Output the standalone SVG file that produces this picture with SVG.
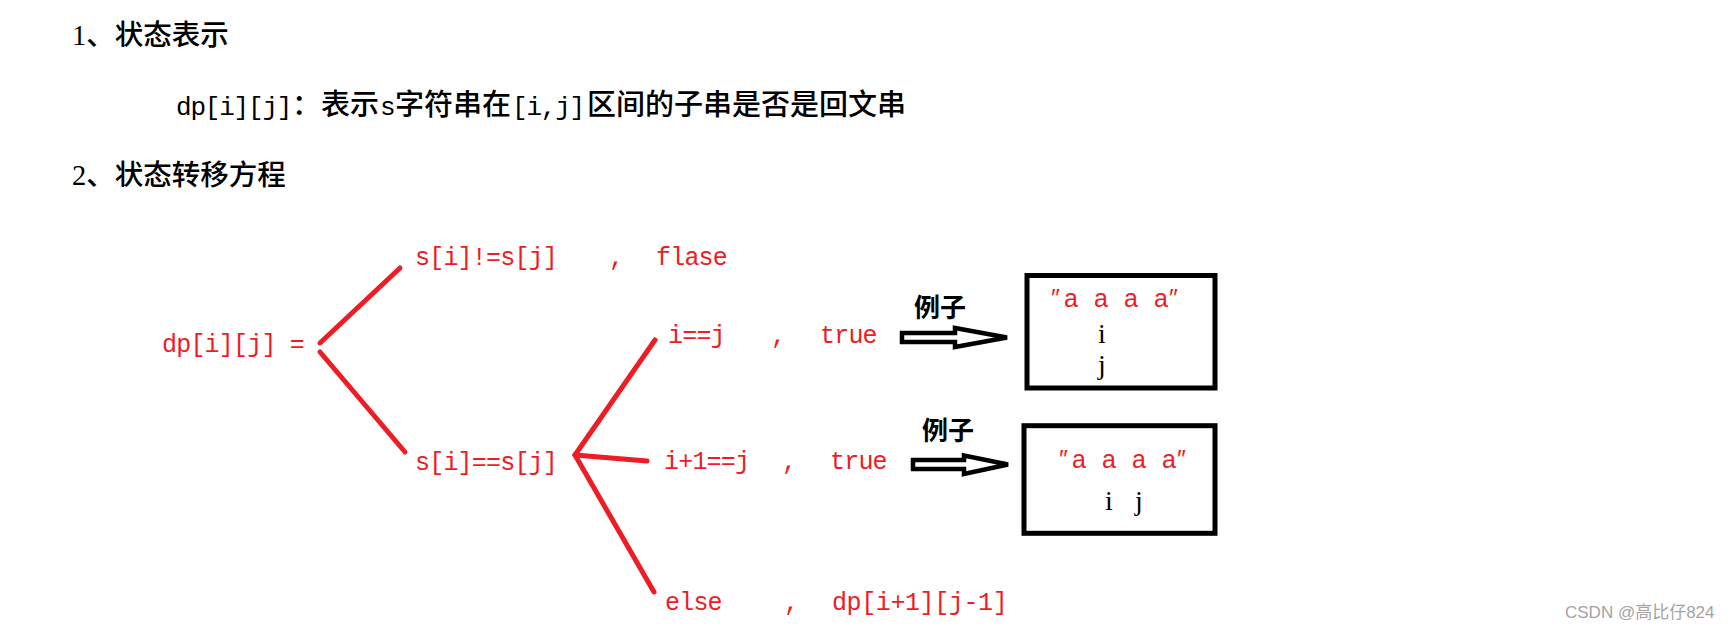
<svg xmlns="http://www.w3.org/2000/svg" width="1732" height="633" viewBox="0 0 1732 633">
  <style>
    .heading { font-family: "Liberation Serif", "Noto Sans CJK SC", serif; font-size: 28.5px; font-weight: 500; fill: #000; }
    .cn { font-family: "Noto Sans CJK SC", sans-serif; font-size: 29px; font-weight: 500; fill: #000; }
    .latin { font-family: "Liberation Mono", monospace; font-size: 26px; letter-spacing: -1.2px; fill: #000; }
    .red { font-family: "Liberation Mono", "Noto Sans CJK SC", monospace; font-size: 25px; letter-spacing: -0.8px; fill: #ee1c25; }
    .branch { stroke: #ee1c25; stroke-width: 5; stroke-linecap: round; fill: none; }
    .hollow { fill: #fff; stroke: #000; stroke-width: 4.5; stroke-linejoin: miter; }
    .frame { fill: none; stroke: #000; stroke-width: 5; }
    .label { font-family: "Noto Sans CJK SC", sans-serif; font-size: 26px; font-weight: 600; fill: #000; }
    .quote { font-family: "Liberation Sans", "DejaVu Sans", sans-serif; font-size: 25px; fill: #ee1c25; }
    .idx { font-family: "Liberation Serif", serif; font-size: 28px; fill: #000; text-anchor: middle; }
    .mark { font-family: "Liberation Sans", "Noto Sans CJK SC", sans-serif; font-size: 17px; fill: #a3a3a3; }
  </style>

  <rect width="1732" height="633" fill="#fff"/>

  <!-- section headings and definition -->
  <g id="heading-1">
    <text class="heading" x="72" y="45">1、状态表示</text>
  </g>
  <g id="definition">
    <text y="115"><tspan class="latin" x="176">dp[i][j]</tspan><tspan class="cn" x="292">：表示</tspan><tspan class="latin" x="380">s</tspan><tspan class="cn" x="395">字符串在</tspan><tspan class="latin" x="512">[i,j]</tspan><tspan class="cn" x="587">区间的子串是否是回文串</tspan></text>
  </g>
  <g id="heading-2">
    <text class="heading" x="72" y="185">2、状态转移方程</text>
  </g>

  <!-- transition tree -->
  <g id="connectors">
    <line class="branch" x1="320" y1="343" x2="400" y2="268"/>
    <line class="branch" x1="320" y1="352" x2="405" y2="452"/>
    <line class="branch" x1="575" y1="455" x2="655" y2="340"/>
    <line class="branch" x1="575" y1="455" x2="647" y2="461"/>
    <line class="branch" x1="575" y1="455" x2="654" y2="592"/>
    <polygon class="hollow" points="902,333 955,333 955,328 1007,337.5 955,347 955,342 902,342"/>
    <polygon class="hollow" points="913,460 964,460 964,455.5 1008,464.5 964,474 964,469 913,469"/>
  </g>

  <g id="root">
    <text class="red" x="162" y="352">dp[i][j] =</text>
  </g>
  <g id="case-unequal">
    <text class="red" y="265"><tspan x="415">s[i]!=s[j] </tspan><tspan x="609">, </tspan><tspan x="656">flase</tspan></text>
  </g>
  <g id="case-equal">
    <text class="red" x="415" y="470">s[i]==s[j]</text>
  </g>
  <g id="case-same-index">
    <text class="red" y="343"><tspan x="668">i==j </tspan><tspan x="771">, </tspan><tspan x="820">true</tspan></text>
  </g>
  <g id="case-adjacent">
    <text class="red" y="469"><tspan x="664">i+1==j </tspan><tspan x="782">, </tspan><tspan x="830">true</tspan></text>
  </g>
  <g id="case-else">
    <text class="red" y="610"><tspan x="665">else </tspan><tspan x="784">, </tspan><tspan x="832" letter-spacing="-0.4">dp[i+1][j-1]</tspan></text>
  </g>

  <!-- examples -->
  <g id="example-1">
    <text class="label" x="914" y="317">例子</text>
    <rect class="frame" x="1027" y="275.5" width="188" height="112.5"/>
    <text class="quote" x="1051 1064 1080 1094 1110 1124 1140 1154 1169" y="307">″a a a a″</text>
    <text class="idx" x="1102" y="343">i</text>
    <text class="idx" x="1102" y="374">j</text>
  </g>
  <g id="example-2">
    <text class="label" x="922" y="440">例子</text>
    <rect class="frame" x="1024" y="425.7" width="191" height="107.6"/>
    <text class="quote" x="1059 1072 1088 1102 1118 1132 1148 1162 1177" y="468">″a a a a″</text>
    <text class="idx" x="1109" y="510">i</text>
    <text class="idx" x="1139" y="510">j</text>
  </g>

  <g id="watermark">
    <text class="mark" x="1565" y="618">CSDN @高比仔824</text>
  </g>
</svg>
